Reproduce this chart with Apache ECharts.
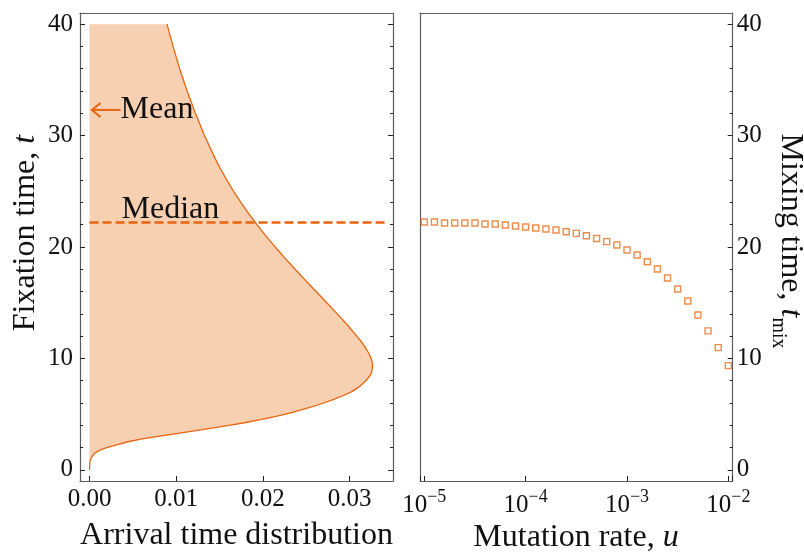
<!DOCTYPE html>
<html>
<head>
<meta charset="utf-8">
<script src="https://cdn.jsdelivr.net/npm/echarts@6/dist/echarts.min.js"></script>
<style>
  html, body { margin: 0; padding: 0; background: #fff; }
  #chart { width: 804px; height: 554px; }
</style>
</head>
<body>
<div id="chart"></div>
<script>
// ---- Left panel: arrival-time density (horizontal) against fixation time t (vertical)
const fixationTimes = [0, 0.5, 0.9, 1.2, 1.5, 1.8, 2.0, 2.25, 2.5, 2.75, 3.0, 3.25, 3.5, 3.75,
  4.0, 4.25, 4.5, 4.8, 5.1, 5.4, 5.7, 6.0, 6.3, 6.65, 7.0, 7.4, 7.8, 8.2, 8.6, 9.0, 9.4, 9.8,
  10.2, 10.6, 11.1, 11.5, 12, 13, 14, 15, 16, 17, 18, 19, 20, 21, 22, 23, 24, 25, 26, 27, 28,
  30, 32, 34, 36, 38, 40];
const arrivalDensity = [0, 0.00002, 0.00008, 0.00028, 0.0006, 0.00125, 0.0020, 0.0031, 0.0043,
  0.0059, 0.0079, 0.0100, 0.0121, 0.0141, 0.0161, 0.0180, 0.0197, 0.0215, 0.0231, 0.0245, 0.0258,
  0.0270, 0.0281, 0.0292, 0.0302, 0.0310, 0.0316, 0.0321, 0.03245, 0.0326, 0.03264, 0.03256,
  0.03238, 0.0321, 0.0317, 0.03135, 0.03082, 0.02974, 0.02857, 0.02736, 0.02613, 0.02491,
  0.02371, 0.02254, 0.02141, 0.02033, 0.01931, 0.01835, 0.01745, 0.01661, 0.01583, 0.01511,
  0.01445, 0.01325, 0.01221, 0.01125, 0.01039, 0.00963, 0.00893];
const medianTime = 22.2;
const medianLineEnd = 0.0341;
const meanTime = 32.3;
const densityTicks = [0, 0.01, 0.02, 0.03];

// ---- Right panel: mixing time against mutation rate u (log10 of u listed)
const mutationRateExponents = [-5.0, -4.9, -4.8, -4.7, -4.6, -4.5, -4.4, -4.3, -4.2, -4.1, -4.0,
  -3.9, -3.8, -3.7, -3.6, -3.5, -3.4, -3.3, -3.2, -3.1, -3.0,
  -2.9, -2.8, -2.7, -2.6, -2.5, -2.4, -2.3, -2.2, -2.1, -2.0];
const mixingTimes = [22.24, 22.24, 22.15, 22.15, 22.15, 22.15, 22.06, 22.06, 21.97, 21.88, 21.79,
  21.70, 21.61, 21.52, 21.37, 21.22, 21.01, 20.76, 20.48, 20.18, 19.73,
  19.28, 18.68, 18.03, 17.22, 16.23, 15.16, 13.90, 12.47, 10.97, 9.35];

// ---- shared time axis
const timeTicks = [0, 10, 20, 30, 40];
const timeMinorTicks = [2, 4, 6, 8, 12, 14, 16, 18, 22, 24, 26, 28, 32, 34, 36, 38];
const timeRange = [-1, 41];
const densityRange = [-0.0011, 0.035];
const rateRange = [Math.pow(10, -5.042), Math.pow(10, -1.957)];

const FONT = "'Liberation Serif', 'Times New Roman', serif";
const ORANGE = '#E8640F';
const MARKER = '#E9701F';
const FILL = '#F7D0B2';
const FRAME = '#5c5c5c';
const TICK = '#222';
const TEXT = '#111';

const chart = echarts.init(document.getElementById('chart'), null, { renderer: 'canvas' });

function lineOnly(extra) {
  return Object.assign({
    axisLine: { show: true, onZero: false, lineStyle: { color: FRAME, width: 1.2 } },
    axisTick: { show: false },
    axisLabel: { show: false },
    splitLine: { show: false }
  }, extra);
}

function ticksOnly(values, len, extra) {
  return Object.assign({
    axisLine: { show: false, onZero: false },
    axisTick: { show: true, inside: true, length: len, customValues: values,
      lineStyle: { color: TICK, width: 1 } },
    axisLabel: { show: false },
    splitLine: { show: false }
  }, extra);
}

const tickLabel = { fontFamily: FONT, fontSize: 25, color: TEXT };

const xAxes = [
  // 0: left panel bottom
  {
    gridIndex: 0, type: 'value', position: 'bottom', min: densityRange[0], max: densityRange[1],
    axisLine: { show: true, onZero: false, lineStyle: { color: FRAME, width: 1.2 } },
    axisTick: { show: true, inside: true, length: 5, customValues: densityTicks, lineStyle: { color: TICK } },
    axisLabel: Object.assign({ customValues: densityTicks, margin: 6,
      formatter: v => v.toFixed(2) }, tickLabel),
    splitLine: { show: false }
  },
  // 1: left panel top frame
  lineOnly({ gridIndex: 0, type: 'value', position: 'top', min: densityRange[0], max: densityRange[1] }),
  // 2: right panel bottom (log)
  {
    gridIndex: 1, type: 'log', logBase: 10, position: 'bottom', min: rateRange[0], max: rateRange[1],
    axisLine: { show: true, onZero: false, lineStyle: { color: FRAME, width: 1.2 } },
    axisTick: { show: true, inside: true, length: 5, lineStyle: { color: TICK } },
    axisLabel: Object.assign({
      margin: 7,
      formatter: v => {
        const e = Math.log10(v);
        const r = Math.round(e);
        return Math.abs(e - r) < 1e-6 ? '{b|10}{sup|\u2212' + (-r) + '}' : '';
      },
      rich: {
        b: { fontFamily: FONT, fontSize: 25, color: TEXT, lineHeight: 30, verticalAlign: 'bottom' },
        sup: { fontFamily: FONT, fontSize: 18, color: TEXT, lineHeight: 18, verticalAlign: 'top' }
      }
    }, tickLabel),
    splitLine: { show: false }
  },
  // 3: right panel top frame
  lineOnly({ gridIndex: 1, type: 'value', position: 'top', min: 0, max: 1 })
];

const yAxes = [
  // 0: left panel, labelled time axis
  {
    gridIndex: 0, type: 'value', position: 'left', min: timeRange[0], max: timeRange[1],
    axisLine: { show: true, onZero: false, lineStyle: { color: FRAME, width: 1.2 } },
    axisTick: { show: true, inside: true, length: 5, customValues: timeTicks, lineStyle: { color: TICK } },
    axisLabel: Object.assign({ customValues: timeTicks, margin: 7 }, tickLabel),
    splitLine: { show: false }
  },
  // 1: left panel, minor ticks on the left edge
  ticksOnly(timeMinorTicks, 3, { gridIndex: 0, type: 'value', position: 'left', min: timeRange[0], max: timeRange[1] }),
  // 2: left panel, right edge with major ticks
  Object.assign(ticksOnly(timeTicks, 5, { gridIndex: 0, type: 'value', position: 'right', min: timeRange[0], max: timeRange[1] }),
    { axisLine: { show: true, onZero: false, lineStyle: { color: FRAME, width: 1.2 } } }),
  // 3: left panel, right edge minor ticks
  ticksOnly(timeMinorTicks, 3, { gridIndex: 0, type: 'value', position: 'right', min: timeRange[0], max: timeRange[1] }),
  // 4: right panel, labelled mixing-time axis on the right
  {
    gridIndex: 1, type: 'value', position: 'right', min: timeRange[0], max: timeRange[1],
    axisLine: { show: true, onZero: false, lineStyle: { color: FRAME, width: 1.2 } },
    axisTick: { show: true, inside: true, length: 5, customValues: timeTicks, lineStyle: { color: TICK } },
    axisLabel: Object.assign({ customValues: timeTicks, margin: 4 }, tickLabel),
    splitLine: { show: false }
  },
  // 5: right panel, minor ticks on the right edge
  ticksOnly(timeMinorTicks, 3, { gridIndex: 1, type: 'value', position: 'right', min: timeRange[0], max: timeRange[1] }),
  // 6: right panel, left frame
  lineOnly({ gridIndex: 1, type: 'value', position: 'left', min: timeRange[0], max: timeRange[1] })
];

const curvePoints = fixationTimes.map((t, i) => [arrivalDensity[i], t]);
const mixingPoints = mutationRateExponents.map((e, i) => [Math.pow(10, e), mixingTimes[i]]);

const option = {
  animation: false,
  backgroundColor: '#ffffff',
  grid: [
    { left: 80, top: 13, width: 313, height: 468 },
    { left: 420, top: 13, width: 312.7, height: 468 }
  ],
  xAxis: xAxes,
  yAxis: yAxes,
  graphic: [
    {
      type: 'text', x: 236.5, y: 535.5, z: 10,
      style: { text: 'Arrival time distribution', fontFamily: FONT, fontSize: 32, fill: TEXT,
        align: 'center', verticalAlign: 'middle' }
    },
    {
      type: 'text', x: 576, y: 537.5, z: 10,
      style: {
        text: 'Mutation rate, {i|u}', fontFamily: FONT, fontSize: 32, fill: TEXT,
        align: 'center', verticalAlign: 'middle',
        rich: { i: { fontFamily: FONT, fontSize: 32, fontStyle: 'italic', fill: TEXT } }
      }
    },
    {
      type: 'text', x: 26, y: 233, rotation: Math.PI / 2, z: 10,
      style: {
        text: 'Fixation time, {i|t}', fontFamily: FONT, fontSize: 32, fill: TEXT,
        align: 'center', verticalAlign: 'middle',
        rich: { i: { fontFamily: FONT, fontSize: 32, fontStyle: 'italic', fill: TEXT } }
      }
    },
    {
      type: 'text', x: 787, y: 241, rotation: -Math.PI / 2, z: 10,
      style: {
        text: '{n|Mixing time, }{i|t}{sub|mix}', fontFamily: FONT, fontSize: 32, fill: TEXT,
        align: 'center', verticalAlign: 'middle',
        rich: {
          n: { fontFamily: FONT, fontSize: 32, fill: TEXT, lineHeight: 38, verticalAlign: 'top' },
          i: { fontFamily: FONT, fontSize: 32, fontStyle: 'italic', fill: TEXT, lineHeight: 38, verticalAlign: 'top' },
          sub: { fontFamily: FONT, fontSize: 20, fill: TEXT, lineHeight: 18, verticalAlign: 'bottom' }
        }
      }
    }
  ],
  series: [
    {
      // shaded region between t-axis and the density curve
      type: 'custom', xAxisIndex: 0, yAxisIndex: 0, z: 1, silent: true,
      data: [[0, 0]],
      renderItem: (params, api) => {
        const pts = curvePoints.map(p => api.coord(p));
        pts.push(api.coord([0, fixationTimes[fixationTimes.length - 1]]));
        return { type: 'polygon', shape: { points: pts }, style: { fill: FILL, stroke: null } };
      }
    },
    {
      type: 'line', xAxisIndex: 0, yAxisIndex: 0, z: 3, silent: true,
      data: [[0, medianTime], [medianLineEnd, medianTime]],
      showSymbol: false, symbol: 'none',
      lineStyle: { color: ORANGE, width: 2.6, type: [9, 4] }
    },
    {
      type: 'line', xAxisIndex: 0, yAxisIndex: 0, z: 4, silent: true,
      data: curvePoints, showSymbol: false, symbol: 'none',
      lineStyle: { color: ORANGE, width: 1.3 }
    },
    {
      // arrow pointing at the mean, with its label
      type: 'custom', xAxisIndex: 0, yAxisIndex: 0, z: 5, silent: true,
      data: [[0, meanTime]],
      renderItem: (params, api) => {
        const c = api.coord([api.value(0), api.value(1)]);
        const tip = c[0] + 2.4, y = c[1];
        return {
          type: 'group',
          children: [
            { type: 'line', shape: { x1: tip, y1: y, x2: tip + 28.5, y2: y },
              style: { stroke: ORANGE, lineWidth: 2 } },
            { type: 'polyline', shape: { points: [[tip + 8.5, y - 7], [tip, y], [tip + 8.5, y + 7]] },
              style: { stroke: ORANGE, lineWidth: 2, fill: null } },
            { type: 'text', x: c[0] + 31, y: y - 0.5,
              style: { text: 'Mean', fontFamily: FONT, fontSize: 32, fill: TEXT,
                align: 'left', verticalAlign: 'middle' } }
          ]
        };
      }
    },
    {
      type: 'custom', xAxisIndex: 0, yAxisIndex: 0, z: 5, silent: true,
      data: [[0, medianTime]],
      renderItem: (params, api) => {
        const c = api.coord([api.value(0), api.value(1)]);
        return { type: 'text', x: c[0] + 32, y: c[1] - 12.8,
          style: { text: 'Median', fontFamily: FONT, fontSize: 32, fill: TEXT,
            align: 'left', verticalAlign: 'middle' } };
      }
    },
    {
      type: 'scatter', xAxisIndex: 2, yAxisIndex: 4, z: 4, silent: true, clip: false,
      data: mixingPoints, symbol: 'rect', symbolSize: 6,
      itemStyle: { color: 'rgba(255,255,255,0)', borderColor: MARKER, borderWidth: 1.4 }
    }
  ]
};

chart.setOption(option);
</script>
</body>
</html>
